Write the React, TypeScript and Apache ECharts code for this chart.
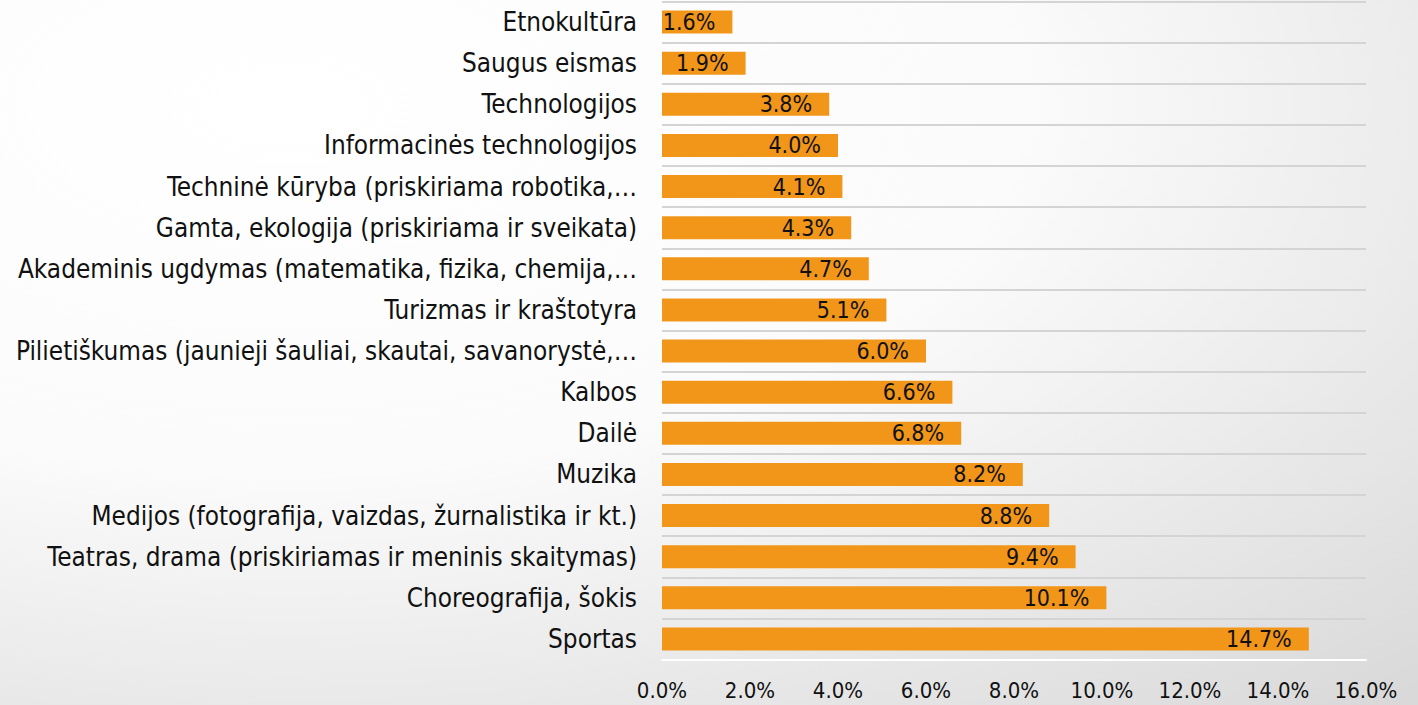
import React, { useEffect, useRef } from "react";
import * as echarts from "echarts";

const categories: string[] = [
  "Etnokultūra",
  "Saugus eismas",
  "Technologijos",
  "Informacinės technologijos",
  "Techninė kūryba (priskiriama robotika,…",
  "Gamta, ekologija (priskiriama ir sveikata)",
  "Akademinis ugdymas (matematika, fizika, chemija,…",
  "Turizmas ir kraštotyra",
  "Pilietiškumas (jaunieji šauliai, skautai, savanorystė,…",
  "Kalbos",
  "Dailė",
  "Muzika",
  "Medijos (fotografija, vaizdas, žurnalistika ir kt.)",
  "Teatras, drama (priskiriamas ir meninis skaitymas)",
  "Choreografija, šokis",
  "Sportas",
];

const values: number[] = [1.6, 1.9, 3.8, 4.0, 4.1, 4.3, 4.7, 5.1, 6.0, 6.6, 6.8, 8.2, 8.8, 9.4, 10.1, 14.7];

const axisMin = 0;
const axisMax = 16;
const axisInterval = 2;

const FONT = "'DejaVu Sans Condensed', 'DejaVu Sans', sans-serif";

export default function App() {
  const ref = useRef<HTMLDivElement>(null);

  useEffect(() => {
    document.body.style.margin = "0";
    if (!ref.current) return;
    const chart = echarts.init(ref.current, undefined, { renderer: "svg" });
    chart.setOption({
      animation: false,
      backgroundColor: {
        type: "radial",
        x: 0.2,
        y: 0.15,
        r: 1.15,
        colorStops: [
          { offset: 0, color: "#ffffff" },
          { offset: 0.45, color: "#fbfbfb" },
          { offset: 1, color: "#d9d9d9" },
        ],
      },
      grid: { left: 662, right: 52, top: 1.5, bottom: 45.5, containLabel: false },
      xAxis: {
        type: "value",
        min: axisMin,
        max: axisMax,
        interval: axisInterval,
        axisLine: { show: true, lineStyle: { color: "#ffffff", width: 2 } },
        axisTick: { show: false },
        splitLine: { show: false },
        axisLabel: {
          formatter: (v: number) => v.toFixed(1) + "%",
          color: "#111",
          fontFamily: FONT,
          fontSize: 22,
          margin: 20,
        },
      },
      yAxis: {
        type: "category",
        data: categories,
        inverse: true,
        axisLine: { show: false },
        axisTick: { show: false },
        splitLine: { show: true, lineStyle: { color: "#d4d4d4", width: 2 } },
        axisLabel: {
          color: "#111",
          fontFamily: FONT,
          fontSize: 25.9,
          margin: 25,
        },
      },
      series: [
        {
          type: "bar",
          data: values,
          barCategoryGap: "44%",
          itemStyle: { color: "#F19619" },
          label: {
            show: true,
            position: "insideRight",
            distance: 17,
            formatter: (p: any) => p.value.toFixed(1) + "%",
            color: "#111",
            fontFamily: FONT,
            fontSize: 23,
          },
        },
      ],
    });
    return () => chart.dispose();
  }, []);

  return <div ref={ref} style={{ width: 1418, height: 705 }} />;
}
